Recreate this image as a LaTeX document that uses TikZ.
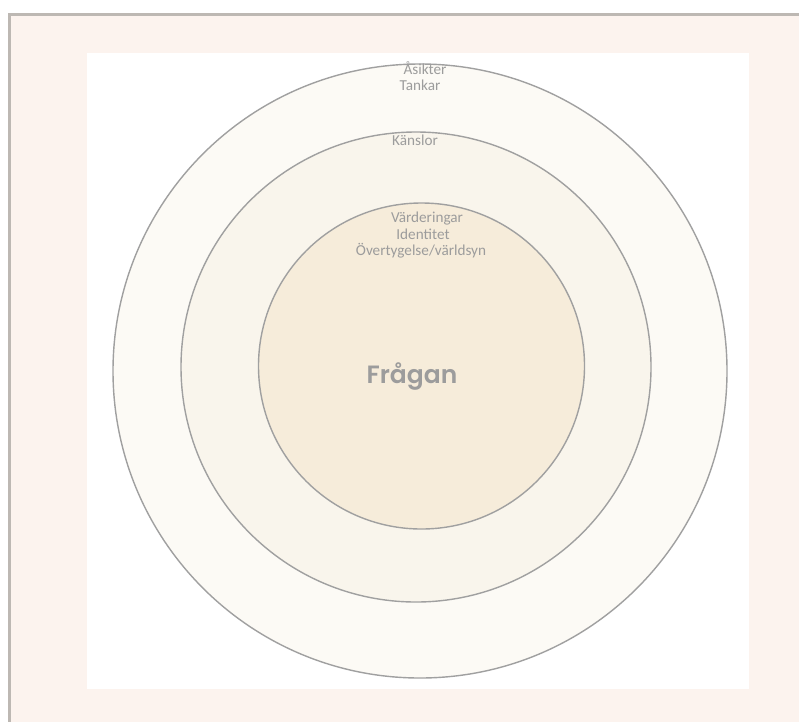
\documentclass[tikz,border=0pt]{standalone}
\usepackage{fontspec}
\setmainfont{Carlito}
\newfontfamily\popfont{Poppins}[UprightFont=* SemiBold]
\definecolor{framebg}{HTML}{FCF3EE}
\definecolor{frameline}{HTML}{BDB8B3}
\definecolor{ringA}{HTML}{FCFAF5}
\definecolor{ringB}{HTML}{F9F5EC}
\definecolor{ringC}{HTML}{F6ECDA}
\definecolor{ringline}{HTML}{A0A0A0}
\definecolor{txt}{HTML}{9C9C9C}
\tikzset{
  ring/.style={draw=ringline, line width=1.4pt},
  lbl/.style={anchor=base, text=txt, font=\fontsize{15.2}{17}\selectfont, inner sep=0pt},
  big/.style={anchor=base, text=txt, font=\popfont\fontsize{25}{30}\selectfont, inner sep=0pt}
}
\begin{document}
\begin{tikzpicture}[x=1pt,y=-1pt]
\useasboundingbox (0,0) rectangle (799,721);
\fill[white] (0,0) rectangle (799,721);
\filldraw[fill=framebg, draw=frameline, line width=2.5pt] (9.5,14.5) rectangle (830,760);
\fill[white] (87,53) rectangle (749,689);
\filldraw[ring, fill=ringA] (420,371) circle[radius=307];
\filldraw[ring, fill=ringB] (416,367) circle[radius=235];
\filldraw[ring, fill=ringC] (421.5,366) circle[radius=163];
\node[lbl] (asikter) at (425,74) {Åsikter};
\node[lbl] (tankar) at (420,90) {Tankar};
\node[lbl] (kanslor) at (415,145) {Känslor};
\node[lbl] (varderingar) at (427,222) {Värderingar};
\node[lbl] (identitet) at (423,239) {Identitet};
\node[lbl] (overtygelse) at (421,255) {Övertygelse/världsyn};
\node[big] (fragan) at (412,383) {Frågan};
\end{tikzpicture}
\end{document}
